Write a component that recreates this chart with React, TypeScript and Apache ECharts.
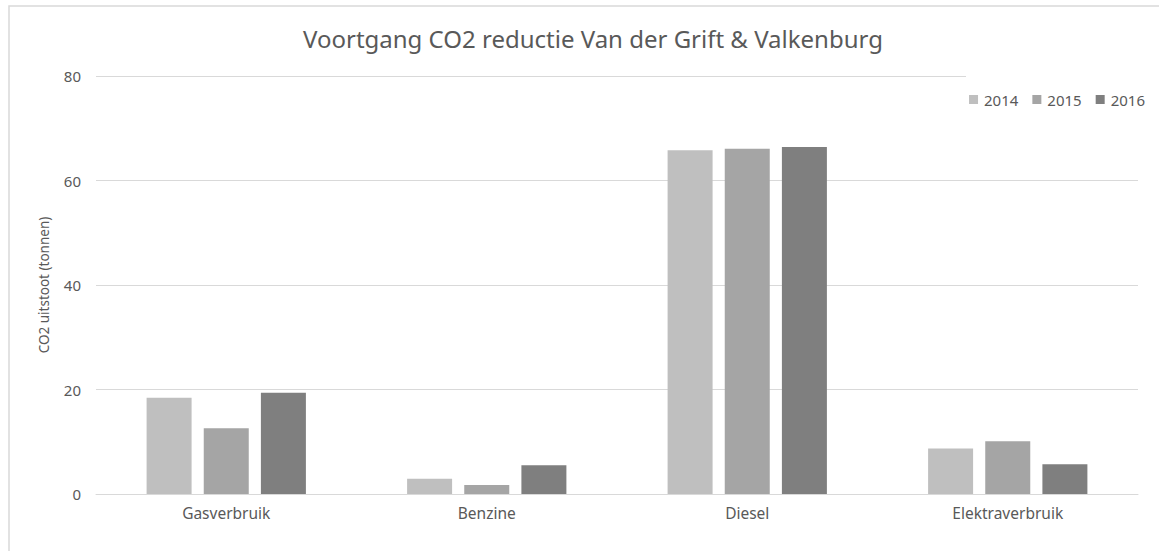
import React, { useEffect, useRef } from "react";
import * as echarts from "echarts";

const categories = ["Gasverbruik", "Benzine", "Diesel", "Elektraverbruik"];
const seriesNames = ["2014", "2015", "2016"];
const values2014 = [18.4, 2.9, 65.8, 8.7];
const values2015 = [12.6, 1.7, 66.1, 10.1];
const values2016 = [19.4, 5.5, 66.4, 5.7];
const colors = ["#bfbfbf", "#a5a5a5", "#7f7f7f"];

const FONT = "'Noto Sans', 'Open Sans', sans-serif";

export default function App() {
  const ref = useRef<HTMLDivElement>(null);
  useEffect(() => {
    if (!ref.current) return;
    const chart = echarts.init(ref.current, undefined, { renderer: "svg" });
    const data = [values2014, values2015, values2016];
    chart.setOption({
      animation: false,
      backgroundColor: "#ffffff",
      textStyle: { fontFamily: FONT },
      title: {
        text: "Voortgang CO2 reductie Van der Grift & Valkenburg",
        left: 588,
        textAlign: "center",
        top: 21,
        textStyle: { fontFamily: FONT, fontSize: 24, fontWeight: "normal", color: "#595959" },
      },
      legend: {
        data: seriesNames,
        right: 14,
        top: 92,
        width: 300,
        padding: 0,
        itemWidth: 9,
        itemHeight: 9,
        itemGap: 14,
        icon: "rect",
        textStyle: { fontFamily: FONT, fontSize: 15, color: "#595959", padding: [0, 0, 0, 1] },
      },
      grid: { left: 96, right: 21, top: 76, bottom: 57 },
      xAxis: {
        type: "category",
        data: categories,
        axisLine: { lineStyle: { color: "#d9d9d9", width: 1 } },
        axisTick: { show: false },
        axisLabel: { color: "#595959", fontSize: 15.5, fontFamily: FONT, margin: 11 },
      },
      yAxis: {
        type: "value",
        min: 0,
        max: 80,
        interval: 20,
        name: "CO2 uitstoot (tonnen)",
        nameLocation: "middle",
        nameGap: 45,
        nameTextStyle: { color: "#595959", fontSize: 13.5, fontFamily: FONT },
        axisLine: { show: false },
        axisTick: { show: false },
        splitLine: { lineStyle: { color: "#d9d9d9", width: 1 } },
        axisLabel: { color: "#595959", fontSize: 15, fontFamily: FONT, margin: 15 },
      },
      series: seriesNames.map((name, i) => ({
        name,
        type: "bar",
        data: data[i],
        barWidth: 45,
        barGap: "27%",
        itemStyle: { color: colors[i] },
      })),
      graphic: [
        {
          type: "rect",
          shape: { x: 966, y: 73, width: 180, height: 6 },
          style: { fill: "#ffffff" },
          z: 100,
        },
        {
          type: "rect",
          shape: { x: 9, y: 6, width: 1170, height: 570 },
          style: { fill: "none", stroke: "#d9d9d9", lineWidth: 1.5 },
          z: 100,
        },
      ],
    });
    return () => chart.dispose();
  }, []);
  return (
    <div
      ref={ref}
      style={{ position: "fixed", left: 0, top: 0, width: 1159, height: 551 }}
    />
  );
}
